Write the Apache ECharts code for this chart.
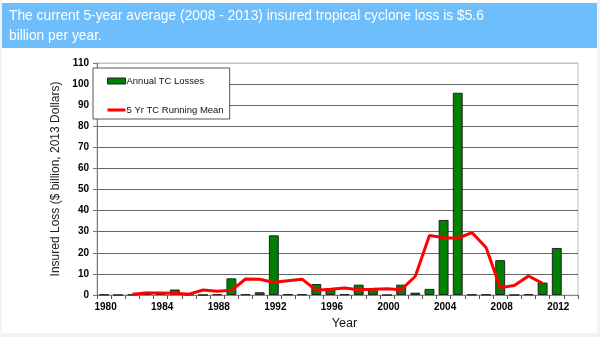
<!DOCTYPE html>
<html><head><meta charset="utf-8">
<script src="https://cdn.jsdelivr.net/npm/echarts@6/dist/echarts.min.js"></script>
<style>html,body{margin:0;padding:0;background:#f3f3f3;}#c{width:600px;height:337px;}</style>
</head><body><div id="c"></div>
<script>
var years = ['1980','1981','1982','1983','1984','1985','1986','1987','1988','1989','1990','1991','1992','1993','1994','1995','1996','1997','1998','1999','2000','2001','2002','2003','2004','2005','2006','2007','2008','2009','2010','2011','2012','2013'];
var annualLosses = [0.2,0,0.2,1.5,1.0,2.6,0.3,0,0.3,7.9,0.3,1.3,28.3,0.3,0.3,5.2,3.0,0.3,4.9,3.3,0,4.9,1.1,2.9,35.6,95.9,0.2,0.2,16.5,0,0.3,5.9,22.3,null];
var runningMean = [null,null,0.4,1.0,1.0,0.8,0.4,2.4,1.8,2.2,7.6,7.5,6.0,6.8,7.5,2.2,2.7,3.3,2.5,2.7,3.0,2.5,8.9,28.2,27.2,26.9,29.6,22.5,3.5,4.5,9.0,5.5,null,null];
var titleText = 'The current 5-year average (2008 - 2013) insured tropical cyclone loss is $5.6\nbillion per year.';

var chart = echarts.init(document.getElementById('c'));
var gridColors = ['#666','#666','#666','#666','#666','#666','#666','#666','#666','#666','#666','#c0c0c0'];
chart.setOption({
  animation: false,
  graphic: [
    {type:'rect', z:-10, shape:{x:2,y:0,width:595,height:333}, style:{fill:'#ffffff'}},
    {type:'rect', z:-5, shape:{x:2,y:3,width:595,height:45}, style:{fill:'#6ebefc'}},
    {type:'text', x:9, y:6, scaleX:0.92, style:{text:titleText, fill:'#ffffff', font:'15px "Liberation Sans", Arial, sans-serif', lineHeight:20}}
  ],
  grid: {left:97, right:22, top:63, bottom:42, show:true, borderColor:'#c0c0c0', borderWidth:1, backgroundColor:'transparent'},
  legend: {
    left:93, top:68, orient:'vertical', backgroundColor:'#fff', borderColor:'#555', borderWidth:1,
    padding:[8,6,4,14], itemGap:19, itemWidth:18, itemHeight:6,
    textStyle:{fontSize:9.5, color:'#111', fontFamily:'"Liberation Sans", Arial, sans-serif', padding:[0,0,0,-4]},
    data:[
      {name:'Annual TC Losses', icon:'rect', itemStyle:{color:'#008000', borderColor:'#222', borderWidth:1}},
      {name:'5 Yr TC Running Mean', icon:'path://M0,0 L20,0 L20,3.4 L0,3.4 Z', itemStyle:{color:'#ff0000', borderWidth:0}}
    ]
  },
  xAxis: {
    type:'category', data:years, boundaryGap:true,
    name:'Year', nameLocation:'middle', nameGap:21,
    nameTextStyle:{fontSize:12.5, color:'#111', fontFamily:'"Liberation Sans", Arial, sans-serif', padding:[0,0,0,14]},
    axisLine:{lineStyle:{color:'#888', width:1}},
    axisTick:{show:true, interval:0, length:4, lineStyle:{color:'#555'}},
    axisLabel:{interval:3, fontSize:10, fontWeight:'bold', color:'#000', margin:7, padding:[0,0,0,3], fontFamily:'"Liberation Sans", Arial, sans-serif'},
    splitLine:{show:false}
  },
  yAxis: {
    type:'value', min:0, max:110, interval:10,
    name:'Insured Loss ($ billion, 2013 Dollars)', nameLocation:'middle', nameGap:31,
    nameTextStyle:{fontSize:12, color:'#222', fontFamily:'"Liberation Sans", Arial, sans-serif'},
    axisLine:{show:true, lineStyle:{color:'#777', width:1}},
    axisTick:{show:true, length:4, lineStyle:{color:'#777'}},
    axisLabel:{fontSize:10, fontWeight:'bold', color:'#000', margin:8, fontFamily:'"Liberation Sans", Arial, sans-serif'},
    splitLine:{show:true, lineStyle:{color:gridColors, width:1}}
  },
  series: [
    {name:'Annual TC Losses', type:'bar', data:annualLosses, barWidth:'70%',
     itemStyle:{color:'#008000', borderColor:'#222', borderWidth:1}, z:2},
    {name:'5 Yr TC Running Mean', type:'line', data:runningMean, symbol:'none', connectNulls:false,
     lineStyle:{color:'#ff0000', width:3}, itemStyle:{color:'#ff0000'}, z:3}
  ]
});
</script></body></html>
